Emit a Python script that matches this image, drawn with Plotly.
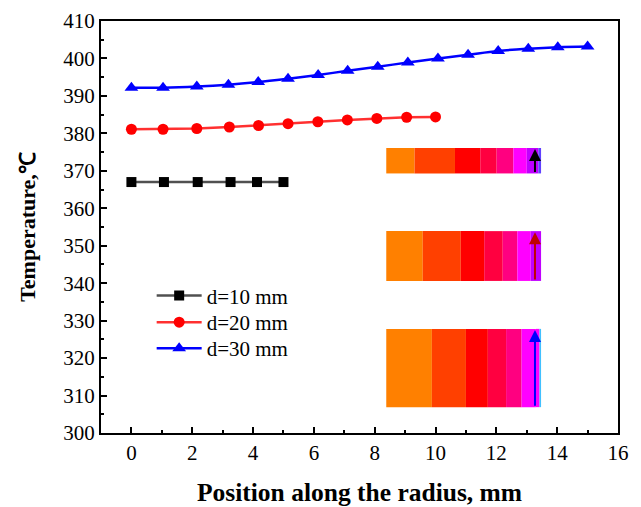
import plotly.graph_objects as go

# ---- data ----
x_d10 = [0, 1.07, 2.18, 3.26, 4.13, 5.0]
t_d10 = [367.0, 367.0, 367.0, 367.0, 367.0, 367.0]

x_d20 = [0, 1.04, 2.15, 3.22, 4.18, 5.15, 6.13, 7.1, 8.07, 9.05, 10.0]
t_d20 = [381.1, 381.1, 381.3, 381.7, 382.1, 382.6, 383.1, 383.6, 384.0, 384.3, 384.4]

x_d30 = [0, 1.04, 2.15, 3.19, 4.17, 5.15, 6.14, 7.11, 8.1, 9.09, 10.08, 11.07, 12.06, 13.05, 14.02, 15.0]
t_d30 = [392.2, 392.2, 392.5, 393.0, 393.7, 394.6, 395.6, 396.7, 397.8, 398.9, 400.0, 401.0, 402.0, 402.6, 403.0, 403.2]

series_names = ["d=10 mm", "d=20 mm", "d=30 mm"]

# inset colour bars: boundaries along x, vertical extent, colours
bar1_edges = [8.38, 9.31, 10.64, 11.47, 12.01, 12.56, 13.0, 13.38, 13.47]
bar1_colors = ["#FF8000", "#FF4000", "#FF0000", "#FF0040", "#FF0080", "#FF00FF", "#BF00FF", "#6040FF"]
bar1_y = [369.3, 376.1]
bar1_arrow = "#000000"

bar2_edges = [8.38, 9.58, 10.83, 11.6, 12.21, 12.69, 13.13, 13.47]
bar2_colors = ["#FF8000", "#FF4000", "#FF0000", "#FF0040", "#FF0080", "#FF00FF", "#C000FF"]
bar2_y = [340.6, 353.9]
bar2_arrow = "#C00000"

bar3_edges = [8.38, 9.88, 11.0, 11.72, 12.32, 12.83, 13.3, 13.42, 13.47]
bar3_colors = ["#FF8000", "#FF4000", "#FF0000", "#FF0040", "#FF0080", "#FF00FF", "#FF00FF", "#40C0FF"]
bar3_y = [306.9, 327.8]
bar3_arrow = "#0000FF"

arrow_x = 13.27

FONT = "Liberation Serif, Times New Roman, serif"

fig = go.Figure()

fig.add_trace(go.Scatter(x=x_d10, y=t_d10, mode="lines+markers", name=series_names[0], legend="legend",
                         line=dict(color="#505050", width=2.5),
                         marker=dict(symbol="square", size=10, color="#000000")))
fig.add_trace(go.Scatter(x=x_d20, y=t_d20, mode="lines+markers", name=series_names[1], legend="legend2",
                         line=dict(color="#FF3030", width=2.5),
                         marker=dict(symbol="circle", size=11, color="#FF0000")))
fig.add_trace(go.Scatter(x=x_d30, y=t_d30, mode="lines+markers", name=series_names[2], legend="legend3",
                         line=dict(color="#0000FF", width=2.5, shape="spline"),
                         marker=dict(symbol="triangle-up", size=12, color="#0000FF")))

shapes = []
annotations = []
for edges, colors, yr, acol in [(bar1_edges, bar1_colors, bar1_y, bar1_arrow),
                                (bar2_edges, bar2_colors, bar2_y, bar2_arrow),
                                (bar3_edges, bar3_colors, bar3_y, bar3_arrow)]:
    for i, c in enumerate(colors):
        shapes.append(dict(type="rect", xref="x", yref="y", x0=edges[i], x1=edges[i + 1],
                           y0=yr[0], y1=yr[1], fillcolor=c, line=dict(width=0), layer="above"))
    annotations.append(dict(x=arrow_x, y=yr[1] - 0.3, ax=arrow_x, ay=yr[0], xref="x", yref="y",
                            axref="x", ayref="y", showarrow=True, arrowhead=2, arrowsize=1.2,
                            arrowwidth=2, arrowcolor=acol, text=""))

leg_common = dict(x=0.098, xanchor="left", yanchor="middle", bgcolor="rgba(0,0,0,0)",
                  font=dict(family=FONT, size=21), itemwidth=45)

# page body has an 8px margin, so the figure is sized/offset to compensate
fig.update_layout(
    width=633, height=499,
    margin=dict(l=93, r=23, t=13, b=74),
    plot_bgcolor="white", paper_bgcolor="white",
    font=dict(family=FONT, size=18, color="black"),
    shapes=shapes, annotations=annotations,
    legend=dict(y=0.333, **leg_common),
    legend2=dict(y=0.268, **leg_common),
    legend3=dict(y=0.205, **leg_common),
    showlegend=True,
)

fig.update_xaxes(range=[-1, 16], tickmode="array", tickvals=list(range(0, 17, 2)),
                 ticks="inside", ticklen=6, tickwidth=2, tickcolor="black",
                 minor=dict(dtick=1, tick0=0, ticks="inside", ticklen=3, tickwidth=2, tickcolor="black"),
                 showline=True, linewidth=2, linecolor="black", mirror=True, showgrid=False, zeroline=False,
                 tickfont=dict(family=FONT, size=21), automargin=False,
                 title=dict(text="<b>Position along the radius, mm</b>", font=dict(family=FONT, size=25.5), standoff=22))
fig.update_yaxes(range=[300, 410], tickmode="array", tickvals=list(range(300, 411, 10)),
                 ticks="inside", ticklen=6, tickwidth=2, tickcolor="black",
                 minor=dict(dtick=5, tick0=300, ticks="inside", ticklen=3, tickwidth=2, tickcolor="black"),
                 showline=True, linewidth=2, linecolor="black", mirror=True, showgrid=False, zeroline=False,
                 tickfont=dict(family=FONT, size=21), automargin=False,
                 title=dict(text="<b>Temperature,℃</b>", font=dict(family=FONT, size=22), standoff=22))

fig.write_html("out.html")
